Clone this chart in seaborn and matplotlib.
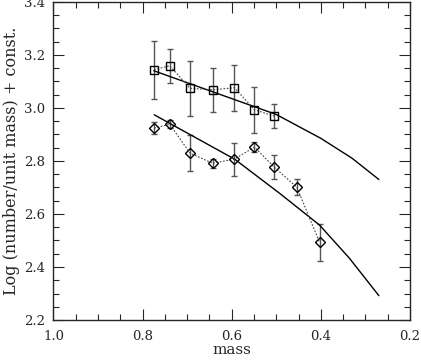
import numpy as np
import pandas as pd
import matplotlib
matplotlib.use('Agg')
import matplotlib.pyplot as plt
import seaborn as sns
from matplotlib.ticker import MultipleLocator, FormatStrFormatter

# Dados
mass_sq = [0.774, 0.739, 0.694, 0.643, 0.594, 0.549, 0.505]
val_sq = [3.144, 3.159, 3.074, 3.068, 3.076, 2.993, 2.969]
err_sq = [0.110, 0.064, 0.104, 0.082, 0.087, 0.086, 0.045]

mass_di = [0.774, 0.739, 0.694, 0.643, 0.594, 0.549, 0.505, 0.454, 0.403]
val_di = [2.924, 2.938, 2.830, 2.791, 2.807, 2.852, 2.777, 2.701, 2.493]
err_di = [0.023, 0.015, 0.068, 0.016, 0.062, 0.019, 0.047, 0.030, 0.070]

mass_up = [0.775, 0.70, 0.60, 0.50, 0.40, 0.33, 0.27]
curve_up = [3.140, 3.095, 3.035, 2.975, 2.885, 2.810, 2.730]

mass_lo = [0.774, 0.593, 0.492, 0.403, 0.336, 0.270]
curve_lo = [2.974, 2.806, 2.677, 2.558, 2.433, 2.292]

sns.set_theme(style='ticks')
plt.rcParams['font.family'] = ['DejaVu Serif']

fig = plt.figure(figsize=(4.21, 3.60), dpi=100)
ax = fig.add_axes([0.127, 0.111, 0.847, 0.884])

df_sq = pd.DataFrame({'mass': mass_sq, 'val': val_sq})
df_di = pd.DataFrame({'mass': mass_di, 'val': val_di})

# Barras de erro
ax.errorbar(mass_sq, val_sq, yerr=err_sq, fmt='none', ecolor='#555555',
            elinewidth=1, capsize=2, capthick=1, zorder=2)
ax.errorbar(mass_di, val_di, yerr=err_di, fmt='none', ecolor='#555555',
            elinewidth=1, capsize=2, capthick=1, zorder=2)

# Pontos ligados por linha pontilhada
sns.lineplot(x='mass', y='val', data=df_sq, ax=ax, color='#444444', lw=0.8,
             linestyle=(0, (1.5, 1.5)), marker='s', markersize=5.5,
             markerfacecolor='none', markeredgecolor='black', markeredgewidth=1,
             sort=False, zorder=3)
sns.lineplot(x='mass', y='val', data=df_di, ax=ax, color='#444444', lw=0.8,
             linestyle=(0, (1.5, 1.5)), marker='D', markersize=4.8,
             markerfacecolor='none', markeredgecolor='black', markeredgewidth=1,
             sort=False, zorder=3)

# Curvas teóricas
sns.lineplot(x=mass_up, y=curve_up, ax=ax, color='black', lw=1, sort=False)
sns.lineplot(x=mass_lo, y=curve_lo, ax=ax, color='black', lw=1, sort=False)

ax.set_xlim(1.0, 0.2)
ax.set_ylim(2.2, 3.4)
ax.xaxis.set_major_locator(MultipleLocator(0.2))
ax.xaxis.set_minor_locator(MultipleLocator(0.05))
ax.yaxis.set_major_locator(MultipleLocator(0.2))
ax.yaxis.set_minor_locator(MultipleLocator(0.05))
ax.xaxis.set_major_formatter(FormatStrFormatter('%.1f'))
ax.yaxis.set_major_formatter(FormatStrFormatter('%.1f'))
ax.tick_params(which='both', direction='in', top=True, right=True, width=0.8,
               labelsize=9.5)
ax.tick_params(axis='x', which='major', length=8, pad=7)
ax.tick_params(axis='y', which='major', length=8, pad=6)
ax.tick_params(which='minor', length=4)
for s in ax.spines.values():
    s.set_linewidth(1)
ax.set_xlabel('mass', fontsize=11, labelpad=0)
ax.set_ylabel('Log (number/unit mass) + const.', fontsize=11.5, labelpad=3)

plt.savefig('out.png', dpi=100)
